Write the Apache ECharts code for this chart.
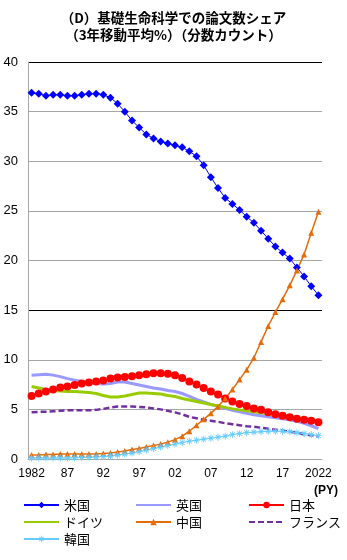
<!DOCTYPE html>
<html>
<head>
<meta charset="utf-8">
<script src="https://cdn.jsdelivr.net/npm/echarts@6/dist/echarts.min.js"></script>
<style>
  html, body { margin: 0; padding: 0; background: #fff; }
  #chart { width: 347px; height: 560px; }
</style>
</head>
<body>
<div id="chart"></div>
<script>
// Publication years 1982–2022
const years = [];
for (let y = 1982; y <= 2022; y++) years.push(String(y));

// Share of papers (%), 3-year moving average, fractional counting
const usa = [36.9, 36.8, 36.6, 36.7, 36.7, 36.6, 36.6, 36.7, 36.8, 36.8, 36.7, 36.4, 35.8, 35.0, 34.1, 33.4, 32.7, 32.3, 32.0, 31.8, 31.6, 31.4, 31.0, 30.5, 29.6, 28.4, 27.3, 26.3, 25.7, 25.1, 24.4, 23.8, 23.0, 22.2, 21.4, 20.8, 20.2, 19.3, 18.4, 17.4, 16.5];
const uk = [8.45, 8.5, 8.55, 8.45, 8.3, 8.1, 7.95, 7.8, 7.7, 7.6, 7.55, 7.6, 7.75, 7.75, 7.6, 7.45, 7.3, 7.15, 7.05, 6.9, 6.8, 6.6, 6.3, 6.0, 5.75, 5.5, 5.3, 5.1, 4.9, 4.75, 4.6, 4.45, 4.35, 4.25, 4.15, 4.05, 3.95, 3.8, 3.6, 3.35, 3.05];
const japan = [6.35, 6.6, 6.8, 7.0, 7.2, 7.3, 7.45, 7.6, 7.7, 7.8, 7.9, 8.1, 8.2, 8.25, 8.35, 8.45, 8.55, 8.65, 8.65, 8.6, 8.45, 8.15, 7.8, 7.5, 7.15, 6.8, 6.5, 6.1, 5.8, 5.55, 5.35, 5.1, 4.95, 4.7, 4.5, 4.35, 4.2, 4.05, 3.95, 3.85, 3.7];
const germany = [7.3, 7.15, 7.0, 6.9, 6.85, 6.8, 6.8, 6.75, 6.7, 6.6, 6.4, 6.25, 6.25, 6.35, 6.5, 6.65, 6.65, 6.6, 6.55, 6.4, 6.3, 6.1, 5.95, 5.8, 5.65, 5.5, 5.35, 5.2, 5.05, 4.95, 4.85, 4.75, 4.65, 4.55, 4.45, 4.35, 4.25, 4.15, 4.05, 3.95, 3.8];
const china = [0.4, 0.4, 0.45, 0.45, 0.5, 0.5, 0.5, 0.5, 0.5, 0.5, 0.55, 0.6, 0.7, 0.8, 0.95, 1.05, 1.2, 1.35, 1.5, 1.7, 1.95, 2.3, 2.8, 3.4, 4.0, 4.6, 5.3, 6.1, 7.0, 8.0, 9.0, 10.2, 11.8, 13.4, 14.8, 16.1, 17.5, 19.0, 20.6, 22.8, 24.9];
const france = [4.7, 4.75, 4.75, 4.8, 4.85, 4.9, 4.9, 4.9, 4.9, 4.95, 5.05, 5.2, 5.3, 5.3, 5.3, 5.25, 5.2, 5.1, 5.0, 4.85, 4.7, 4.5, 4.25, 4.1, 3.95, 3.85, 3.75, 3.6, 3.5, 3.4, 3.3, 3.25, 3.15, 3.05, 2.95, 2.85, 2.75, 2.65, 2.5, 2.4, 2.3];
const korea = [0.1, 0.1, 0.1, 0.1, 0.1, 0.1, 0.12, 0.15, 0.18, 0.2, 0.25, 0.3, 0.4, 0.5, 0.6, 0.75, 0.9, 1.05, 1.2, 1.35, 1.5, 1.65, 1.8, 1.9, 2.0, 2.1, 2.2, 2.3, 2.45, 2.55, 2.65, 2.7, 2.75, 2.8, 2.8, 2.8, 2.75, 2.65, 2.55, 2.45, 2.35];

const seriesNames = ['米国', '英国', '日本', 'ドイツ', '中国', 'フランス', '韓国'];
const titleLines = ['（D）基礎生命科学での論文数シェア', '（3年移動平均%）（分数カウント）'];
const yTicks = { min: 0, max: 40, interval: 5 };

const JP = '"Noto Sans CJK JP", sans-serif';
const NUM = '"Liberation Sans", Arial, sans-serif';
const GRID_GRAY = '#a6a6a6';

// asterisk-shaped marker
const asterisk = 'path://M4.4,0h1.2v10h-1.2z M0,4.4h10v1.2h-10z M1.2,2.1L2.1,1.2L8.8,7.9L7.9,8.8z M7.9,1.2L8.8,2.1L2.1,8.8L1.2,7.9z';

function lineSeries(name, data, color, extra) {
  return Object.assign({
    name: name,
    type: 'line',
    data: data,
    showAllSymbol: true,
    animation: false,
    lineStyle: { color: color, width: 1 },
    itemStyle: { color: color },
    emphasis: { disabled: true }
  }, extra);
}

// legend entry; plain-line series get no marker in their icon
function legendItem(name, withMarker) {
  return withMarker ? { name: name } : { name: name, itemStyle: { opacity: 0 } };
}

const legendBase = {
  orient: 'vertical', top: 493,
  itemWidth: 35, itemHeight: 8, itemGap: 3,
  textStyle: { fontFamily: JP, fontSize: 13, color: '#000', lineHeight: 14 }
};

const chart = echarts.init(document.getElementById('chart'), null, { renderer: 'canvas' });

chart.setOption({
  animation: false,
  title: {
    text: titleLines.join('\n'),
    left: 'center',
    top: 4,
    textStyle: { fontFamily: JP, fontSize: 13.5, fontWeight: 'bold', color: '#000', lineHeight: 17 }
  },
  grid: { left: 28, right: 25, top: 62, bottom: 101 },
  xAxis: {
    type: 'category',
    data: years,
    boundaryGap: true,
    axisLine: { lineStyle: { color: GRID_GRAY, width: 1 } },
    axisTick: { show: false },
    axisLabel: {
      interval: 4,
      margin: 9,
      fontFamily: NUM,
      fontSize: 12,
      color: '#000',
      formatter: function (v, i) {
        return (i === 0 || i === years.length - 1) ? v : v.slice(2);
      }
    },
    splitLine: { show: false }
  },
  yAxis: {
    type: 'value',
    min: yTicks.min,
    max: yTicks.max,
    interval: yTicks.interval,
    axisLine: { show: true, lineStyle: { color: GRID_GRAY, width: 1 } },
    axisTick: { show: false },
    axisLabel: { fontFamily: NUM, fontSize: 13, color: '#000', margin: 10 },
    splitLine: {
      show: true,
      lineStyle: {
        width: 1,
        color: [GRID_GRAY, GRID_GRAY, GRID_GRAY, '#000', GRID_GRAY, GRID_GRAY, GRID_GRAY, GRID_GRAY, '#000']
      }
    }
  },
  legend: [
    Object.assign({}, legendBase, {
      left: 18,
      data: [legendItem(seriesNames[0], true), legendItem(seriesNames[3], false), legendItem(seriesNames[6], true)]
    }),
    Object.assign({}, legendBase, {
      left: 130,
      data: [legendItem(seriesNames[1], false), legendItem(seriesNames[4], true)]
    }),
    Object.assign({}, legendBase, {
      left: 243,
      data: [legendItem(seriesNames[2], true), legendItem(seriesNames[5], false)]
    })
  ],
  graphic: [
    {
      type: 'text',
      left: 314,
      top: 485,
      style: { text: '(PY)', font: 'bold 12px "Liberation Sans", Arial, sans-serif', fill: '#000' }
    }
  ],
  series: [
    lineSeries(seriesNames[0], usa, '#0000ff', { symbol: 'diamond', symbolSize: 8, z: 3 }),
    lineSeries(seriesNames[1], uk, '#9999ff', { symbol: 'none', lineStyle: { color: '#9999ff', width: 3 } }),
    lineSeries(seriesNames[2], japan, '#ff0000', { symbol: 'circle', symbolSize: 8 }),
    lineSeries(seriesNames[3], germany, '#99cc00', { symbol: 'none', lineStyle: { color: '#99cc00', width: 3 } }),
    lineSeries(seriesNames[4], china, '#e46c0a', { symbol: 'triangle', symbolSize: 6, lineStyle: { color: '#e46c0a', width: 1.5 } }),
    lineSeries(seriesNames[5], france, '#7030a0', { symbol: 'none', lineStyle: { color: '#7030a0', width: 2.5, type: [6, 3] } }),
    lineSeries(seriesNames[6], korea, '#66ccff', { symbol: asterisk, symbolSize: 7 })
  ]
});
</script>
</body>
</html>
